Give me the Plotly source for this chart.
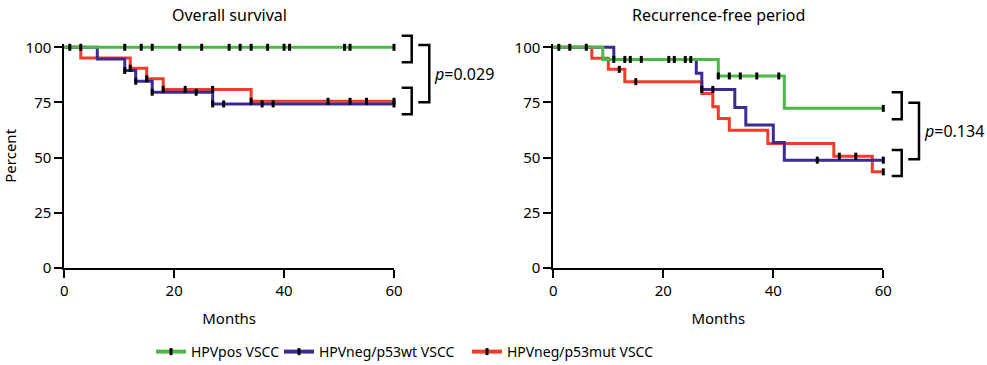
import plotly.graph_objects as go

# ---------------- data ----------------
series_names = ["HPVpos VSCC", "HPVneg/p53wt VSCC", "HPVneg/p53mut VSCC"]
series_colors = ["#4cb848", "#3d2b91", "#f03c28"]

# Overall survival: event times (months) and survival (%) after each event
os_pos_t = []
os_pos_s = []
os_pos_cens = [1, 3, 11, 14, 16, 21, 25, 30, 32, 34, 37, 40, 41, 51, 52, 60]

os_wt_t = [6, 11, 13, 16, 27]
os_wt_s = [94.7, 89.5, 84.6, 79.6, 74.3]
os_wt_cens = [11, 13, 16, 24, 27, 29, 36, 38, 60]

os_mut_t = [3, 12, 15, 18, 34]
os_mut_s = [95.2, 90.5, 85.7, 80.9, 75.5]
os_mut_cens = [12, 15, 18, 22, 27, 34, 48, 52, 55, 60]

# Recurrence-free period
rf_pos_t = [9, 30, 42]
rf_pos_s = [94.5, 87.0, 72.3]
rf_pos_cens = [1, 13, 16, 21, 24, 30, 32, 34, 37, 41, 60]

rf_wt_t = [11, 26, 27, 33, 35, 40, 42]
rf_wt_s = [94.5, 88.2, 80.9, 72.7, 64.7, 56.8, 48.8]
rf_wt_cens = [3, 11, 14, 22, 25, 27, 29, 48, 60]

rf_mut_t = [7, 10, 13, 27, 29, 30, 32, 39, 51, 58]
rf_mut_s = [95.0, 90.0, 84.4, 79.0, 73.0, 67.7, 62.4, 56.3, 50.6, 43.5]
rf_mut_cens = [6, 12, 15, 52, 55, 60]

x_ticks = [0, 20, 40, 60]
y_ticks = [0, 25, 50, 75, 100]
panel_titles = ["Overall survival", "Recurrence-free period"]
p_values = ["0.029", "0.134"]
MAX_T = 60
Y_TOP = 101.5  # small headroom so the 100 % lines are not clipped

# ---------------- helpers ----------------
def step_xy(times, surv):
    xs = [0] + list(times) + [MAX_T]
    ys = [100] + list(surv) + [surv[-1] if surv else 100]
    return xs, ys

def surv_at(times, surv, t):
    v = 100
    for ti, si in zip(times, surv):
        if ti <= t:
            v = si
    return v

W, H = 987, 365
def px(x):
    return x / W
def py(y):
    return 1 - y / H

# pixel geometry of the plotting areas
Y0_PX, Y100_PX = 267.7, 47.3
y_top_px = Y0_PX - (Y0_PX - Y100_PX) * Y_TOP / 100

fig = go.Figure()

panels = [
    ("x", "y", [(os_mut_t, os_mut_s, os_mut_cens, 2),
                (os_wt_t, os_wt_s, os_wt_cens, 1),
                (os_pos_t, os_pos_s, os_pos_cens, 0)]),
    ("x2", "y2", [(rf_mut_t, rf_mut_s, rf_mut_cens, 2),
                  (rf_wt_t, rf_wt_s, rf_wt_cens, 1),
                  (rf_pos_t, rf_pos_s, rf_pos_cens, 0)]),
]

marker_style = dict(symbol="line-ns", size=5, line=dict(width=3, color="black"))

for xa, ya, groups in panels:
    for times, surv, cens, idx in groups:
        xs, ys = step_xy(times, surv)
        fig.add_trace(go.Scatter(
            x=xs, y=ys, mode="lines", line=dict(color=series_colors[idx], width=3, shape="hv"),
            xaxis=xa, yaxis=ya, showlegend=False, cliponaxis=False, hoverinfo="skip"))
    for times, surv, cens, idx in groups:
        fig.add_trace(go.Scatter(
            x=cens, y=[surv_at(times, surv, c) for c in cens], mode="markers",
            marker=marker_style,
            xaxis=xa, yaxis=ya, showlegend=False, cliponaxis=False, hoverinfo="skip"))

# legend entries (one legend each, for free positioning)
legend_names = ["legend", "legend2", "legend3"]
text_x = [195, 323, 511]
for i in range(3):
    fig.add_trace(go.Scatter(
        x=[None], y=[None], mode="lines+markers", name=series_names[i],
        line=dict(color=series_colors[i], width=4),
        marker=marker_style,
        legend=legend_names[i], showlegend=True))

legend_common = dict(orientation="h", xanchor="left", yanchor="middle", y=py(352),
                     font=dict(size=14, color="black"), bgcolor="rgba(0,0,0,0)",
                     borderwidth=0, itemwidth=30)

axis_common = dict(showline=True, linecolor="black", linewidth=2, ticks="outside",
                   ticklen=8, tickwidth=2, tickcolor="black", showgrid=False, zeroline=False,
                   tickfont=dict(size=15, color="black"), automargin=False)

fig.update_layout(
    width=W, height=H, margin=dict(l=0, r=0, t=0, b=0, autoexpand=False),
    plot_bgcolor="white", paper_bgcolor="white",
    font=dict(family="Noto Sans", size=15, color="black"),
    xaxis=dict(domain=[px(64.3), px(394)], range=[0, MAX_T], tickvals=x_ticks,
               title=dict(text="Months", standoff=15, font=dict(size=15)), anchor="y", **axis_common),
    yaxis=dict(domain=[py(Y0_PX), py(y_top_px)], range=[0, Y_TOP], tickvals=y_ticks,
               title=dict(text="Percent", standoff=5, font=dict(size=15)), anchor="x", **axis_common),
    xaxis2=dict(domain=[px(553.3), px(883.3)], range=[0, MAX_T], tickvals=x_ticks,
                title=dict(text="Months", standoff=15, font=dict(size=15)), anchor="y2", **axis_common),
    yaxis2=dict(domain=[py(Y0_PX), py(y_top_px)], range=[0, Y_TOP], tickvals=y_ticks,
                anchor="x2", **axis_common),
    legend=dict(x=px(text_x[0] - 44), **legend_common),
    legend2=dict(x=px(text_x[1] - 44), **legend_common),
    legend3=dict(x=px(text_x[2] - 44), **legend_common),
)

# panel titles
for cx, t in zip([229, 718], panel_titles):
    fig.add_annotation(x=px(cx), y=py(15), xref="paper", yref="paper", text=t,
                       showarrow=False, font=dict(size=16), xanchor="center", yanchor="middle")

# comparison brackets and p-values
def bracket(x1, x2, y1, y2):
    return dict(type="path", xref="paper", yref="paper",
                path=f"M {px(x1)} {py(y1)} L {px(x2)} {py(y1)} L {px(x2)} {py(y2)} L {px(x1)} {py(y2)}",
                line=dict(color="black", width=2.5))

shapes = [
    bracket(401.7, 411.7, 35.7, 62.3),
    bracket(401.7, 411.7, 87.7, 114.3),
    bracket(418.3, 429.3, 45.0, 102.3),
    bracket(891.7, 901.7, 92.3, 119.3),
    bracket(891.7, 901.7, 150.0, 176.0),
    bracket(908.3, 919.0, 102.7, 159.3),
]
fig.update_layout(shapes=shapes)

for x0, yc, pv in [(432, 73.5, p_values[0]), (922, 131, p_values[1])]:
    fig.add_annotation(x=px(x0), y=py(yc), xref="paper", yref="paper",
                       text=f"<i>p</i>={pv}", showarrow=False, font=dict(size=16),
                       xanchor="left", yanchor="middle")

fig.write_html("out.html")
